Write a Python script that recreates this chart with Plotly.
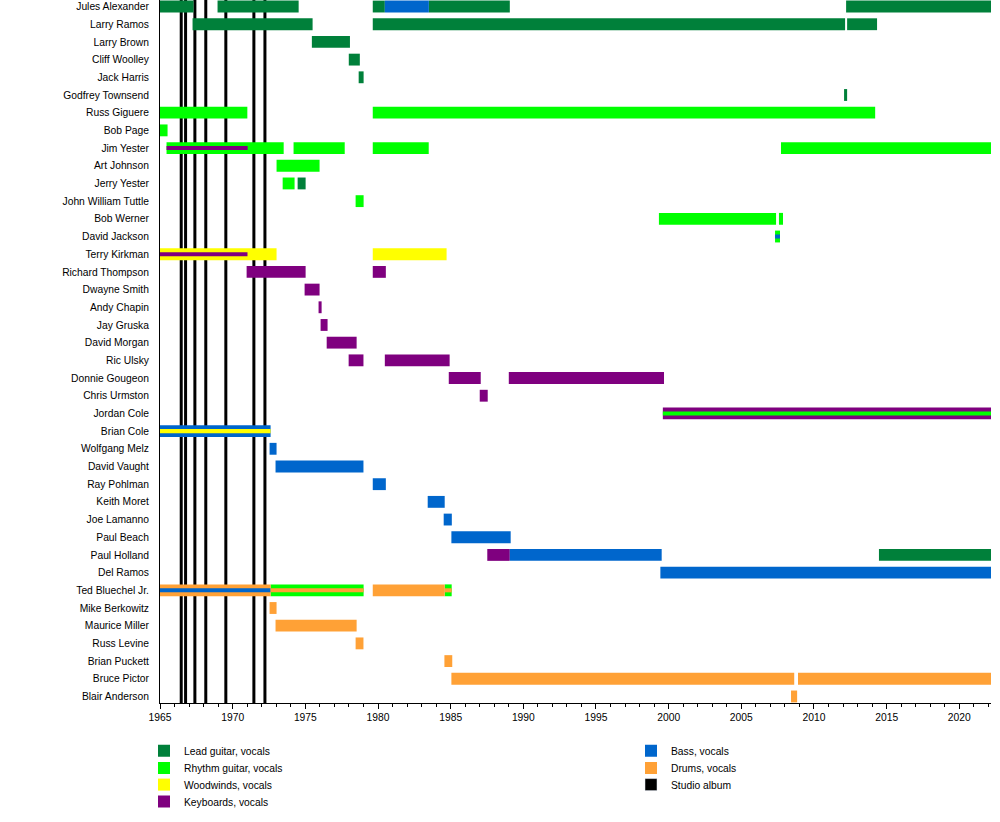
import plotly.graph_objects as go

END = 2022.18  # "present"

members = ["Jules Alexander", "Larry Ramos", "Larry Brown", "Cliff Woolley", "Jack Harris",
           "Godfrey Townsend", "Russ Giguere", "Bob Page", "Jim Yester", "Art Johnson",
           "Jerry Yester", "John William Tuttle", "Bob Werner", "David Jackson", "Terry Kirkman",
           "Richard Thompson", "Dwayne Smith", "Andy Chapin", "Jay Gruska", "David Morgan",
           "Ric Ulsky", "Donnie Gougeon", "Chris Urmston", "Jordan Cole", "Brian Cole",
           "Wolfgang Melz", "David Vaught", "Ray Pohlman", "Keith Moret", "Joe Lamanno",
           "Paul Beach", "Paul Holland", "Del Ramos", "Ted Bluechel Jr.", "Mike Berkowitz",
           "Maurice Miller", "Russ Levine", "Brian Puckett", "Bruce Pictor", "Blair Anderson"]

lead_guitar = [
    ("Jules Alexander", 1965.0, 1967.31), ("Jules Alexander", 1968.96, 1974.54),
    ("Jules Alexander", 1979.64, 1980.47), ("Jules Alexander", 1983.50, 1989.07),
    ("Jules Alexander", 2012.21, END),
    ("Larry Ramos", 1967.24, 1975.50), ("Larry Ramos", 1979.64, 2012.14),
    ("Larry Ramos", 2012.28, 2014.34),
    ("Larry Brown", 1975.45, 1978.07), ("Cliff Woolley", 1977.99, 1978.75),
    ("Jack Harris", 1978.67, 1979.01), ("Godfrey Townsend", 2012.07, 2012.28),
    ("Jerry Yester", 1974.47, 1975.02), ("Paul Holland", 2014.47, END),
]

rhythm_guitar = [
    ("Russ Giguere", 1965.0, 1971.01), ("Russ Giguere", 1979.64, 2014.21),
    ("Bob Page", 1965.0, 1965.52),
    ("Jim Yester", 1965.45, 1973.51), ("Jim Yester", 1974.19, 1977.71),
    ("Jim Yester", 1979.64, 1983.49), ("Jim Yester", 2007.73, END),
    ("Art Johnson", 1973.02, 1975.98), ("Jerry Yester", 1973.44, 1974.26),
    ("John William Tuttle", 1978.46, 1979.01),
    ("Bob Werner", 1999.33, 2007.39), ("Bob Werner", 2007.59, 2007.87),
    ("David Jackson", 2007.32, 2007.66),
    ("Ted Bluechel Jr.", 1972.61, 1979.01), ("Ted Bluechel Jr.", 1984.59, 1985.07),
]

woodwinds = [
    ("Terry Kirkman", 1965.0, 1973.02), ("Terry Kirkman", 1979.64, 1984.72),
]

keyboards = [
    ("Richard Thompson", 1970.96, 1975.02), ("Richard Thompson", 1979.64, 1980.54),
    ("Dwayne Smith", 1974.95, 1975.98), ("Andy Chapin", 1975.91, 1976.12),
    ("Jay Gruska", 1976.05, 1976.53), ("David Morgan", 1976.47, 1978.53),
    ("Ric Ulsky", 1977.98, 1979.0), ("Ric Ulsky", 1980.47, 1984.93),
    ("Donnie Gougeon", 1984.87, 1987.07), ("Donnie Gougeon", 1989.0, 1999.68),
    ("Chris Urmston", 1987.0, 1987.55), ("Jordan Cole", 1999.60, END),
    ("Paul Holland", 1987.52, 1989.07),
]

bass = [
    ("Jules Alexander", 1980.47, 1983.50), ("Brian Cole", 1965.0, 1972.61),
    ("Wolfgang Melz", 1972.54, 1973.02), ("David Vaught", 1972.95, 1979.0),
    ("Ray Pohlman", 1979.64, 1980.54), ("Keith Moret", 1983.42, 1984.59),
    ("Joe Lamanno", 1984.52, 1985.08), ("Paul Beach", 1985.05, 1989.13),
    ("Paul Holland", 1989.07, 1999.52), ("Del Ramos", 1999.43, END),
]

drums = [
    ("Ted Bluechel Jr.", 1965.0, 1972.61), ("Ted Bluechel Jr.", 1979.64, 1984.59),
    ("Mike Berkowitz", 1972.54, 1973.02), ("Maurice Miller", 1972.95, 1978.53),
    ("Russ Levine", 1978.46, 1979.0), ("Brian Puckett", 1984.57, 1985.11),
    ("Bruce Pictor", 1985.05, 2008.64), ("Bruce Pictor", 2008.90, END),
    ("Blair Anderson", 2008.42, 2008.84),
]

# secondary-role stripes drawn inside the main bars
stripe_keyboards = [("Jim Yester", 1965.45, 1971.03), ("Terry Kirkman", 1965.0, 1971.02)]
stripe_rhythm = [("Jordan Cole", 1999.60, END)]
stripe_woodwinds = [("Brian Cole", 1965.0, 1972.61)]
stripe_bass = [("David Jackson", 2007.32, 2007.66), ("Ted Bluechel Jr.", 1965.0, 1972.61)]
stripe_drums = [("Ted Bluechel Jr.", 1972.61, 1979.01), ("Ted Bluechel Jr.", 1984.59, 1985.07)]

studio_albums = [1966.46, 1966.76, 1967.40, 1968.15, 1969.53, 1971.46, 1972.22]

roles = [
    ("Lead guitar, vocals", lead_guitar, "#00803a", "legend"),
    ("Rhythm guitar, vocals", rhythm_guitar, "#00ff00", "legend2"),
    ("Woodwinds, vocals", woodwinds, "#ffff00", "legend3"),
    ("Keyboards, vocals", keyboards, "#7f007f", "legend4"),
    ("Bass, vocals", bass, "#0066cc", "legend5"),
    ("Drums, vocals", drums, "#ffa136", "legend6"),
]
colors = {r[0]: r[2] for r in roles}
stripes = [
    (stripe_keyboards, colors["Keyboards, vocals"]),
    (stripe_rhythm, colors["Rhythm guitar, vocals"]),
    (stripe_woodwinds, colors["Woodwinds, vocals"]),
    (stripe_bass, colors["Bass, vocals"]),
    (stripe_drums, colors["Drums, vocals"]),
]

FONT = "Liberation Sans, Arial, sans-serif"
BAR_W = 0.67
STRIPE_W = 0.23

fig = go.Figure()
for name, spans, color, lg in roles:
    fig.add_trace(go.Bar(
        y=[s[0] for s in spans], x=[s[2] - s[1] for s in spans], base=[s[1] for s in spans],
        orientation="h", width=BAR_W, marker=dict(color=color, line=dict(width=0)),
        name=name, legend=lg, hoverinfo="skip"))
for spans, color in stripes:
    fig.add_trace(go.Bar(
        y=[s[0] for s in spans], x=[s[2] - s[1] for s in spans], base=[s[1] for s in spans],
        orientation="h", width=STRIPE_W, marker=dict(color=color, line=dict(width=0)),
        showlegend=False, hoverinfo="skip"))
fig.add_trace(go.Bar(y=[None], x=[None], orientation="h", marker=dict(color="black"),
                     name="Studio album", legend="legend7"))

for d in studio_albums:
    fig.add_vline(x=d, line=dict(color="black", width=3), layer="below")

legend_pos = {
    "legend": (0.144, 750.7), "legend2": (0.144, 768.0), "legend3": (0.144, 784.6),
    "legend4": (0.144, 801.5), "legend5": (0.631, 750.7), "legend6": (0.631, 768.0),
    "legend7": (0.631, 784.6),
}
legend_layout = {}
for key, (lx, ly) in legend_pos.items():
    legend_layout[key] = dict(x=lx, y=1 - ly / 822, xref="container", yref="container",
                              xanchor="left", yanchor="middle", bgcolor="rgba(0,0,0,0)",
                              font=dict(family=FONT, size=10.3, color="black"),
                              borderwidth=0)

fig.update_layout(
    width=1000, height=822, barmode="overlay",
    margin=dict(l=160, r=9, t=0, b=119, autoexpand=False),
    plot_bgcolor="white", paper_bgcolor="white",
    font=dict(family=FONT, size=10.3, color="black"),
    xaxis=dict(range=[1965, END], tick0=1965, dtick=5, showgrid=False, zeroline=False,
               showline=True, linecolor="black", linewidth=1, tickangle=0,
               ticks="outside", ticklen=5, tickcolor="black", tickwidth=1,
               minor=dict(dtick=1, ticks="outside", ticklen=3, tickcolor="black", showgrid=False),
               tickfont=dict(family=FONT, size=10.3, color="black")),
    yaxis=dict(categoryorder="array", categoryarray=members, range=[39.37, -0.37],
               showgrid=False, zeroline=False, showline=True, linecolor="black", linewidth=1,
               ticks="", ticklabelstandoff=8,
               tickfont=dict(family=FONT, size=10.3, color="black")),
    **legend_layout,
)

fig.write_html("out.html", config={"displayModeBar": False},
               post_script="document.body.style.margin='0';")
